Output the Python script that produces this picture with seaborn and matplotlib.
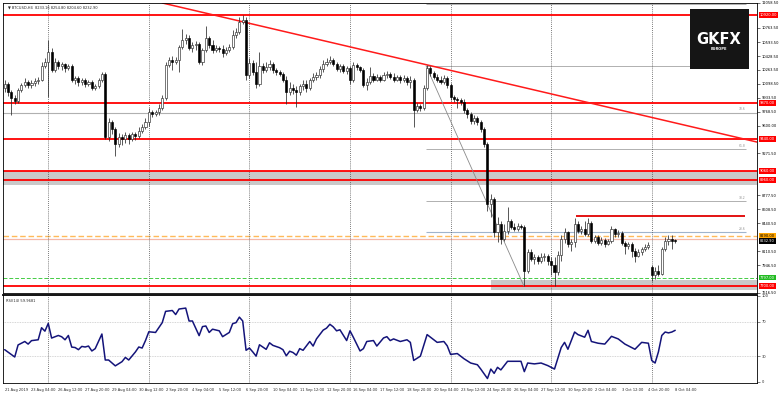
import matplotlib
matplotlib.use("Agg")
import matplotlib.pyplot as plt
import matplotlib.transforms as mtransforms
from matplotlib.patches import Rectangle
import numpy as np
import pandas as pd
import seaborn as sns

# ---------------- data (BTCUSD H4) ----------------
bar_open = [10052,10099,10004,9934,9898,10028,10087,10122,10087,10111,10134,10146,10311,10358,10476,10264,10358,10311,10335,10288,
            10311,10146,10170,10122,10146,10099,10122,10052,10075,10146,10217,9462,9650,9556,9379,9462,9438,9485,9438,9497,
            9473,9544,9591,9650,9768,9745,9768,9816,9934,10323,10382,10358,10382,10535,10618,10642,10524,10559,10571,10358,
            10500,10642,10559,10500,10524,10512,10465,10500,10535,10677,10712,10830,10854,10205,10347,10240,10099,10311,10264,10299,
            10335,10264,10240,10217,10146,10004,10052,10028,10004,10075,10099,10052,10146,10181,10205,10276,10335,10358,10382,10335,
            10276,10311,10252,10288,10146,10323,10299,10264,10087,10122,10193,10146,10181,10146,10205,10217,10181,10146,10181,10146,
            10170,10122,10146,9792,9839,9816,10052,10288,10229,10181,10146,10122,10170,10087,9945,9922,9910,9886,9792,9745,
            9662,9698,9650,9556,9379,8671,8730,8341,8435,8258,8352,8470,8400,8376,8411,8400,7880,8105,8022,8046,
            7998,8046,8057,7998,7951,7869,8069,8258,8341,8199,8223,8435,8352,8376,8317,8447,8234,8282,8211,8246,
            8199,8234,8376,8317,8329,8211,8175,8199,8116,8057,8105,8140,8164,7928,7822,7880,7845,8140,8234,8258,
            8233.16]
bar_close = [10099,10004,9934,9898,10028,10087,10122,10087,10111,10134,10146,10311,10358,10476,10264,10358,10311,10335,10288,10311,
             10146,10170,10122,10146,10099,10122,10052,10075,10146,10217,9462,9650,9556,9379,9462,9438,9485,9438,9497,9473,
             9544,9591,9650,9768,9745,9768,9816,9934,10323,10382,10358,10382,10535,10618,10642,10524,10559,10571,10358,10500,
             10642,10559,10500,10524,10512,10465,10500,10535,10677,10712,10830,10854,10205,10347,10240,10099,10311,10264,10299,10335,
             10264,10240,10217,10146,10004,10052,10028,10004,10075,10099,10052,10146,10181,10205,10276,10335,10358,10382,10335,10276,
             10311,10252,10288,10146,10323,10299,10264,10087,10122,10193,10146,10181,10146,10205,10217,10181,10146,10181,10146,10170,
             10122,10146,9792,9839,9816,10052,10288,10229,10181,10146,10122,10170,10087,9945,9922,9910,9886,9792,9745,9662,
             9698,9650,9556,9379,8671,8730,8341,8435,8258,8352,8470,8400,8376,8411,8400,7880,8105,8022,8046,7998,
             8046,8057,7998,7951,7869,8069,8258,8341,8199,8223,8435,8352,8376,8317,8447,8234,8282,8211,8246,8199,
             8234,8376,8317,8329,8211,8175,8199,8116,8057,8105,8140,8164,8187,7822,7880,7845,8140,8234,8258,8233,
             8232.90]
bar_high = [10146,10122,10028,9969,10052,10111,10170,10146,10146,10170,10181,10358,10406,10618,10524,10406,10382,10358,10347,10335,
            10335,10193,10193,10170,10170,10146,10146,10099,10170,10240,10240,9698,9674,9591,9509,9497,9521,9509,9532,9521,
            9580,9627,9698,9816,9792,9792,9863,9969,10358,10417,10429,10417,10559,10748,10689,10677,10594,10606,10594,10524,
            10783,10665,10618,10559,10547,10559,10535,10571,10736,10760,10889,10913,10889,10406,10382,10358,10476,10347,10358,10382,
            10358,10288,10264,10240,10193,10122,10099,10075,10099,10146,10146,10170,10229,10240,10311,10382,10406,10429,10406,10358,
            10335,10335,10311,10311,10358,10347,10311,10288,10170,10299,10229,10217,10205,10240,10252,10240,10229,10205,10205,10205,
            10193,10193,10170,9875,9863,10087,10323,10311,10252,10217,10193,10205,10193,10111,9969,9945,9934,9922,9816,9768,
            9733,9721,9674,9580,9403,8789,8754,8518,8470,8435,8636,8494,8447,8447,8435,8423,8140,8140,8081,8069,
            8093,8093,8081,8046,8046,8116,8305,8388,8352,8258,8506,8470,8411,8470,8506,8470,8305,8305,8282,8270,
            8258,8411,8388,8364,8352,8234,8223,8223,8152,8140,8164,8199,8223,7951,7928,7951,8164,8282,8305,8305,
            8254.80]
bar_low = [10004,9957,9733,9863,9875,10004,10063,10052,10052,10075,10099,10134,10288,9945,10240,10240,10276,10264,10240,10264,
           10122,10099,10075,10087,10063,10075,10028,10028,10052,10122,9438,9414,9497,9237,9344,9367,9391,9379,9414,9426,
           9450,9509,9556,9603,9709,9721,9733,9792,9910,10299,10264,10335,10240,10512,10571,10500,10476,10500,10335,10323,
           10476,10524,10465,10476,10476,10417,10441,10476,10512,10642,10689,10807,10146,10170,10205,10052,10075,10229,10240,10264,
           10229,10205,10193,10122,9863,9969,9981,9827,9969,10028,10004,10028,10122,10146,10170,10240,10311,10335,10311,10252,
           10240,10229,10217,10099,10122,10264,10240,10063,10028,10099,10122,10134,10122,10134,10170,10158,10122,10134,10111,10122,
           10087,10052,9580,9768,9780,9792,10028,10193,10158,10122,10099,10099,10052,9910,9886,9816,9851,9757,9698,9627,
           9627,9615,9532,9344,8588,8518,8282,8223,8199,8234,8317,8376,8352,8352,8376,7703,7857,7998,7963,7963,
           7975,7998,7951,7822,7703,7833,7998,8211,8164,8116,8164,8329,8317,8293,8293,8211,8211,8187,8187,8164,
           8187,8211,8282,8282,8187,8081,8140,8046,7987,8046,8069,8116,8140,7751,7786,7810,7833,8116,8187,8140,
           8204.60]

rsi_bar = [0,3,4,6,7,8,10,11,12,13,14,16,17,18,19,20,21,22,23,24,25,26,27,29,30,31,33,35,36,37,39,40,41,42,43,45,47,48,50,51,
           52,54,55,56,58,59,60,61,62,64,65,67,68,69,70,71,72,73,74,75,76,77,78,79,80,82,83,84,85,86,87,88,89,91,92,93,95,96,97,98,
           99,100,102,103,104,106,107,108,110,111,113,114,115,116,118,120,121,122,124,126,127,129,131,132,133,135,137,139,141,142,144,145,146,147,148,150,152,154,155,156,
           158,160,162,164,166,167,168,170,171,173,174,175,177,179,181,183,185,188,190,192,193,194,195,196,197,198,199,200]
rsi_value = [37.5,29,43,47,44,48,49,63,59,68,51,54,52.5,49,54,40.5,40,37.5,41.3,40.6,41.7,36,38.7,55.7,25.5,25.5,18.7,23.6,28.5,25.5,34.9,40.6,39.4,48.1,58.3,57.5,68.9,82,83,78.3,
             84.7,85.8,70.8,70.8,53.8,64.3,65,57.5,61.3,59.4,52.6,57.5,67.7,68.9,75.3,70.8,36.8,39.4,34.9,30,43.2,40.6,37.9,45.5,42.5,39.8,37.5,30.4,35.7,34.2,31.1,38.7,36.8,47,41.7,50,60.2,62.5,67,64,
             59.4,60.6,48.1,59.4,51.9,36,38.7,47,48.1,41.7,51.1,52.6,48.1,50,47,49,46,25,30,55,52,46,47,42,32,33,27,22,20,15,4,15,10,17,14,24,24,24,12,22,
             21,22,19,15,40,46,38,58,55,52,60,47,45,44,53,50,44,38,46,45,25,22,35,54,58,57,58,59.97]

date_labels = ["21 Aug 2019","23 Aug 04:00","26 Aug 12:00","27 Aug 20:00","29 Aug 04:00","30 Aug 12:00",
               "2 Sep 20:00","4 Sep 04:00","5 Sep 12:00","6 Sep 20:00","10 Sep 04:00","11 Sep 12:00",
               "12 Sep 20:00","16 Sep 04:00","17 Sep 12:00","18 Sep 20:00","20 Sep 04:00","23 Sep 12:00",
               "24 Sep 20:00","26 Sep 04:00","27 Sep 12:00","30 Sep 20:00","2 Oct 04:00","3 Oct 12:00",
               "4 Oct 20:00","8 Oct 04:00"]
date_label_bars = list(range(0, 201, 8))
week_start_bars = [13, 43, 73, 103, 133, 163, 193]

# visible right-axis labels (those hidden behind the coloured price boxes are omitted)
price_tick_labels = ["7616.50","7946.50","8110.50","8440.50","8608.50","8777.50",
                     "9271.50","9600.00","9768.50","9933.50","10098.50","10263.50","10428.50",
                     "10593.50","10763.50","11058.50"]

red_levels = [10920, 9870, 9440, 9060, 8960, 7700]
band_top_low = [8895, 9060]
resist_short = 8530
green_level = 7797
orange_level = 8290
salmon_level = 8255
last_price = 8232.90
fib_prices = [10311, 9757, 9320, 8706, 8341]
fib_names = ["100.0", "78.6", "61.8", "38.2", "23.6"]
trend_bars = [47, 224.4]
trend_prices = [11059, 9407]
fib_diag_bars = [125.7, 154.8]
fib_diag_prices = [10311, 7703]
rsi_levels = [30, 70]

df = pd.DataFrame({"open": bar_open, "high": bar_high, "low": bar_low, "close": bar_close})
df["bar"] = np.arange(len(df))

# ---------------- style ----------------
sns.set_style("white")
plt.rcParams['font.family'] = ['DejaVu Sans']

fig = plt.figure(figsize=(7.8, 3.95), dpi=100)
ax = fig.add_axes([3/780, 1-293/395, 754/780, 290/395])
ax2 = fig.add_axes([3/780, 1-383/395, 754/780, 88/395])

XMIN, XMAX = -0.5, 224.4
FS = 2.6

# --- horizontal structure ---
ax.axhspan(band_top_low[0], band_top_low[1], color='#c9c9c9', zorder=1, lw=0)
ax.fill_between([145, XMAX], 7648, 7766, color='#c9c9c9', zorder=1, lw=0)
ax.hlines([11043, fib_prices[0], fib_prices[2], fib_prices[3]], 125.7, 221, color='#b0b0b0', lw=0.7, zorder=1.5)
ax.axhline(fib_prices[1], color='#b0b0b0', lw=0.8, zorder=1.5)
ax.hlines(fib_prices[4], 125.7, 221, color='#9fb4cc', lw=0.8, zorder=1.5)
for nm, pr in zip(fib_names, fib_prices):
    ax.text(221, pr + 15, nm, fontsize=2.2, color='#909090', ha='right', va='bottom', zorder=2)
ax.axhline(green_level, color='#44cc44', lw=0.7, ls=(0, (4, 2)), zorder=1.6)
ax.axhline(orange_level, color='#ffb347', lw=1.0, ls=(0, (4, 2)), alpha=0.9, zorder=1.6)
ax.axhline(salmon_level, color='#f5b8a8', lw=0.9, zorder=1.6)
for lv in red_levels:
    ax.axhline(lv, color='#ff0000', lw=1.3, zorder=2)
ax.hlines(resist_short, 170.3, 220.8, color='#e00000', lw=1.3, zorder=2)

# diagonal lines
sns.lineplot(x=trend_bars, y=trend_prices, ax=ax, color='#ff1a1a', lw=1.1, zorder=2.2)
sns.lineplot(x=fib_diag_bars, y=fib_diag_prices, ax=ax, color='#8a8a8a', lw=0.6, zorder=2.1)

# week separators
for b in week_start_bars:
    ax.axvline(b, color='#505050', lw=0.6, ls=(0, (1, 1.5)), zorder=1.7)
    ax2.axvline(b, color='#505050', lw=0.6, ls=(0, (1, 1.5)), zorder=1.7)

# --- candles ---
x = df["bar"].values
o = df["open"].values; c = df["close"].values
h = df["high"].values; l = df["low"].values
up = c >= o
ax.vlines(x, l, h, color='#2a2a2a', lw=0.55, zorder=3)
bot = np.minimum(o, c)
hgt = np.maximum(np.abs(c - o), 8)
ax.bar(x[up], hgt[up], bottom=bot[up], width=0.62, color='white', edgecolor='#2a2a2a', linewidth=0.45, zorder=4)
ax.bar(x[~up], hgt[~up], bottom=bot[~up], width=0.62, color='black', edgecolor='black', linewidth=0.45, zorder=4)

ax.set_xlim(XMIN, XMAX)
ax.set_ylim(7614, 11056)
ax.set_xticks([])
ax.yaxis.tick_right()
ax.set_yticks([float(s) for s in price_tick_labels])
ax.set_yticklabels(price_tick_labels, fontsize=FS)
ax.tick_params(axis='y', length=2, width=0.4, pad=1.5, colors='black')
ax.set_xlabel(""); ax.set_ylabel("")
for sp in ax.spines.values():
    sp.set_color('black'); sp.set_linewidth(0.6)

# right-side price boxes
tr = mtransforms.blended_transform_factory(ax.transAxes, ax.transData)
def box(pr, txt, fc, tc='white'):
    ax.text(1.004, pr, txt, transform=tr, fontsize=FS, color=tc, ha='left', va='center', zorder=10,
            clip_on=False, bbox=dict(boxstyle='square,pad=0.25', fc=fc, ec='none'))
for lv in red_levels:
    box(lv, f"{lv:.2f}", '#ff0000')
box(green_level, f"{green_level:.2f}", '#22bb22')
box(orange_level, f"{orange_level:.2f}", '#ffa500', 'black')
box(last_price, f"{last_price:.2f}", 'black')

# title
ax.text(0.006, 0.992, "\u25bc BTCUSD,H4  8233.16 8254.80 8204.60 8232.90", transform=ax.transAxes,
        fontsize=FS, va='top', ha='left', zorder=10)

# logo
fig.patches.append(Rectangle((690/780, 1-69/395), 59/780, 60/395, transform=fig.transFigure,
                             fc='#151515', ec='none', zorder=20))
fig.text(719/780, 1-40/395, "GKFX", color='white', fontsize=10.5, fontweight='bold', ha='center', va='center', zorder=21)
fig.text(719/780, 1-49/395, "EUROPE", color='white', fontsize=2.6, fontweight='bold', ha='center', va='center', zorder=21)

# --- RSI panel ---
sns.lineplot(x=rsi_bar, y=rsi_value, ax=ax2, color='#14147a', lw=1.1, zorder=3)
for lv in rsi_levels:
    ax2.axhline(lv, color='#c8c8c8', lw=0.6, ls=(0, (1, 1)), zorder=1)
ax2.set_xlim(XMIN, XMAX)
ax2.set_ylim(-1.2, 101)
ax2.yaxis.tick_right()
ax2.set_yticks([0, 30, 70, 100])
ax2.set_yticklabels(["0", "30", "70", "100"], fontsize=FS)
ax2.tick_params(axis='y', length=2, width=0.4, pad=1.5)
ax2.set_xticks(date_label_bars)
ax2.set_xticklabels(date_labels, fontsize=FS, ha='left')
ax2.tick_params(axis='x', length=2, width=0.4, pad=1.5, direction='out')
ax2.set_xlabel(""); ax2.set_ylabel("")
for sp in ax2.spines.values():
    sp.set_color('black'); sp.set_linewidth(0.6)
ax2.spines['top'].set_linewidth(1.3)
ax2.text(0.004, 0.955, "RSI(14) 59.9681", transform=ax2.transAxes, fontsize=FS, va='top', ha='left')

fig.savefig("out.png", dpi=100)
